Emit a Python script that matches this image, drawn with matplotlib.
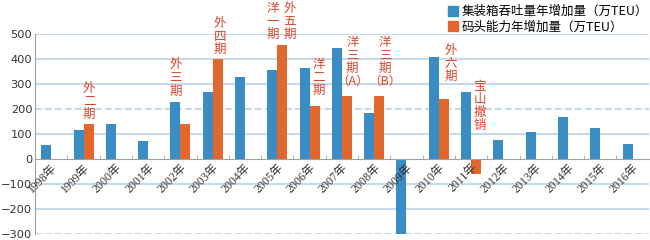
import matplotlib
matplotlib.use("Agg")
import matplotlib.pyplot as plt
from matplotlib.lines import Line2D
import numpy as np

years = ["1998年", "1999年", "2000年", "2001年", "2002年", "2003年", "2004年",
         "2005年", "2006年", "2007年", "2008年", "2009年", "2010年", "2011年",
         "2012年", "2013年", "2014年", "2015年", "2016年"]
throughput = [55, 115, 140, 73, 227, 267, 328, 353, 364, 443, 182, -300,
              406, 267, 77, 108, 166, 125, 59]
capacity = [0, 140, 0, 0, 140, 400, 0, 455, 210, 250, 250, 0,
            237, -60, 0, 0, 0, 0, 0]
series_names = ["集装箱吞吐量年增加量（万TEU）", "码头能力年增加量（万TEU）"]

# annotations: (text, x position in category units, bottom value)
notes = [("外\n二\n期", 1.17, 152),
         ("外\n三\n期", 3.85, 245),
         ("外\n四\n期", 5.22, 412),
         ("洋\n一\n期", 6.87, 472),
         ("外\n五\n期", 7.39, 472),
         ("洋\n二\n期", 8.27, 247),
         ("洋\n三\n期\n（A）", 9.32, 283),
         ("洋\n三\n期\n（B）", 10.34, 283),
         ("外\n六\n期", 12.37, 303),
         ("宝\n山\n撤\n销", 13.27, 108)]

BLUE = "#3a8dc3"
ORANGE = "#e2672d"
RED = "#e0442a"
GRID = "#b9d2e6"

plt.rcParams['font.family'] = ['Noto Sans CJK SC', 'DejaVu Sans']

fig = plt.figure(figsize=(6.5, 2.4), dpi=100)
ax = fig.add_axes([0.054, 0.025, 0.944, 0.835])

x = np.arange(len(years))
w = 0.31
ax.bar(x - w / 2, throughput, w, color=BLUE, zorder=1.5)
ax.bar(x + w / 2, capacity, w, color=ORANGE, zorder=1.5)

ax.set_xlim(-0.5, len(years) - 0.5)
ax.set_ylim(-300, 500)

for v in [100, 300, 400, 500, -100, -200]:
    ax.axhline(v, color=GRID, lw=1.2, zorder=1)
for v in [200, -300]:
    ax.axhline(v, color=GRID, lw=1.2, ls=(0, (4, 2)), zorder=1)

for s in ['top', 'right']:
    ax.spines[s].set_visible(False)
ax.spines['bottom'].set_position(('data', 0))
ax.spines['bottom'].set_color('#a0a0a0')
ax.spines['left'].set_color('#a0a0a0')
ax.xaxis.set_zorder(5)

ax.set_xticks(x)
ax.set_xticklabels(years, rotation=45, ha='right', va='top',
                   rotation_mode='anchor', fontsize=8.5,
                   family=['Liberation Serif', 'Noto Sans CJK SC'], color='#333333')
ax.tick_params(axis='x', length=0, pad=2)
ax.set_xticks(x[:-1] + 0.5, minor=True)
ax.tick_params(axis='x', which='minor', direction='in', length=3, color='#a0a0a0')

ax.set_yticks([500, 400, 300, 200, 100, 0, -100, -200, -300])
ax.set_yticklabels(["500", "400", "300", "200", "100", "0", "−100", "−200", "−300"],
                   fontsize=8.2, family=['DejaVu Sans'], color='#333333')
ax.tick_params(axis='y', length=0, pad=2)

for txt, xp, yb in notes:
    ax.text(xp, yb, txt, color=RED, fontsize=9, ha='center', va='bottom',
            linespacing=1.0, clip_on=False, zorder=4)

handles = [Line2D([], [], marker='s', ls='none', color=BLUE, markersize=7),
           Line2D([], [], marker='s', ls='none', color=ORANGE, markersize=7)]
fig.legend(handles, series_names, loc='upper right', bbox_to_anchor=(1.005, 1.0),
           frameon=False, handlelength=0.8, handletextpad=0.3,
           labelspacing=0.2, borderaxespad=0.0,
           prop={'family': ['Noto Sans CJK SC', 'DejaVu Sans'], 'size': 9})

fig.savefig("out.png", dpi=100)
